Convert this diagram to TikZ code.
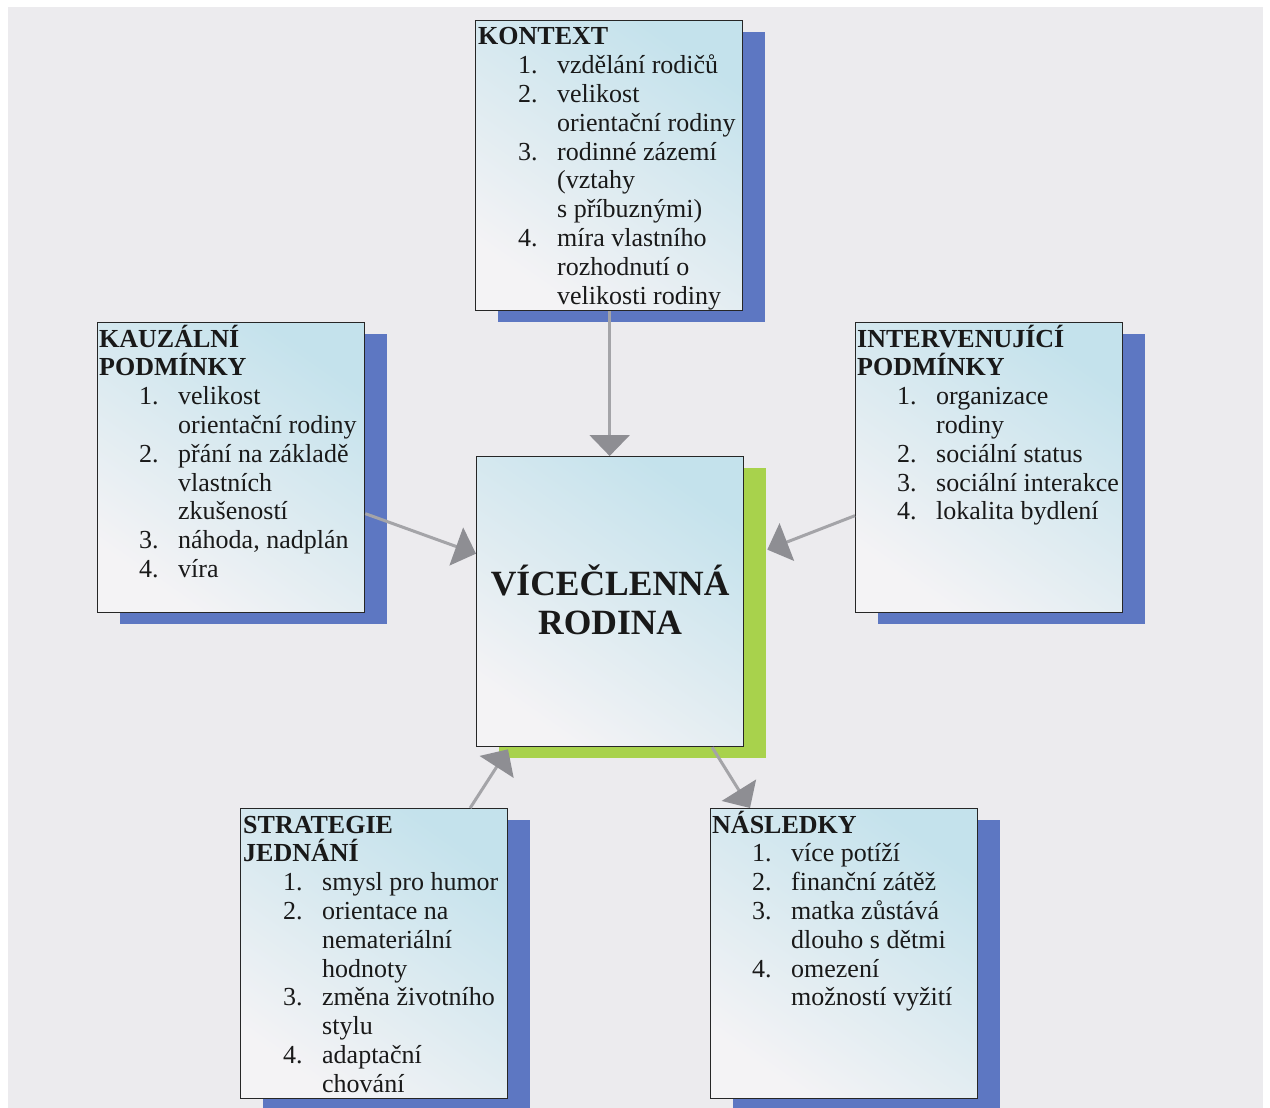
\documentclass[tikz,border=0pt]{standalone}
\usepackage{fontspec}
\setmainfont{Liberation Serif}
\usetikzlibrary{arrows.meta,shadows}
\definecolor{pagebg}{HTML}{ECEBEE}
\definecolor{shblue}{HTML}{5D77C2}
\definecolor{shgreen}{HTML}{A8D24C}
\definecolor{boxtop}{HTML}{C4E2EC}
\definecolor{boxbot}{HTML}{F4F3F5}
\definecolor{arrline}{HTML}{A4A4A8}
\definecolor{arrhead}{HTML}{8E8E93}
\newcommand\ttl[1]{\textbf{#1}}
\newcommand\itm[2]{\hspace*{40pt}\makebox[39pt][l]{#1}#2}
\newcommand\cnt[1]{\hspace*{79pt}#1}
\newcommand\boxtext[1]{\parbox[t]{300pt}{\raggedright\fontsize{26}{28.8}\selectfont #1}}
\tikzset{
  box/.style={draw=black!85, line width=1.3pt, top color=boxtop, bottom color=boxbot,
    shading angle=-35, minimum width=267pt, minimum height=290pt, anchor=north west,
    inner sep=0pt},
  blueshadow/.style={drop shadow={shadow xshift=22pt, shadow yshift=-11.5pt, fill=shblue, opacity=1}},
  greenshadow/.style={drop shadow={shadow xshift=22pt, shadow yshift=-11.5pt, fill=shgreen, opacity=1}},
  boxlabel/.style={anchor=base west, inner sep=0pt, text=black!90},
  conn/.style={draw=arrline, line width=3pt,
    -{Triangle[width=40pt,length=21pt,fill=arrhead,color=arrhead]}}
}
\begin{document}
\begin{tikzpicture}[x=1pt,y=-1pt]
\useasboundingbox (0,0) rectangle (1270,1108);
\clip (0,0) rectangle (1270,1108);
\fill[white] (0,0) rectangle (1270,1108);
\fill[pagebg] (8,7) rectangle (1263,1108);

% boxes (geometry only)
\node[box, blueshadow] (kontext) at (475,20) {};
\node[box, blueshadow] (kauz) at (97,322) {};
\node[box, blueshadow] (interv) at (855,322) {};
\node[box, greenshadow] (central) at (476,456) {};
\node[box, blueshadow] (strat) at (240,808) {};
\node[box, blueshadow] (nasl) at (710,808) {};

% connectors
\draw[conn] ([xshift=0.5pt]kontext.south) -- ([xshift=-0.5pt]central.north);
\draw[conn] ([yshift=-46pt]kauz.east) -- ([yshift=48pt]central.west);
\draw[conn] ([yshift=-48pt]interv.west) -- ([xshift=23pt,yshift=52pt]central.east);
\draw[conn] ([xshift=96pt]strat.north) -- ([xshift=32pt,yshift=-2pt]central.south west);
\draw[conn] ([xshift=102pt]central.south) -- ([xshift=40pt]nasl.north west);

% texts
\node[boxlabel] (tkontext) at ([xshift=3pt,yshift=-25pt]kontext.north west) {\boxtext{%
\ttl{KONTEXT}\\
\itm{1.}{vzdělání rodičů}\\
\itm{2.}{velikost}\\
\cnt{orientační rodiny}\\
\itm{3.}{rodinné zázemí}\\
\cnt{(vztahy}\\
\cnt{s příbuznými)}\\
\itm{4.}{míra vlastního}\\
\cnt{rozhodnutí o}\\
\cnt{velikosti rodiny}}};

\node[boxlabel] (tkauz) at ([xshift=2pt,yshift=-25pt]kauz.north west) {\boxtext{%
\ttl{KAUZÁLNÍ}\\
\ttl{PODMÍNKY}\\
\itm{1.}{velikost}\\
\cnt{orientační rodiny}\\
\itm{2.}{přání na základě}\\
\cnt{vlastních}\\
\cnt{zkušeností}\\
\itm{3.}{náhoda, nadplán}\\
\itm{4.}{víra}}};

\node[boxlabel] (tinterv) at ([xshift=2pt,yshift=-25pt]interv.north west) {\boxtext{%
\ttl{INTERVENUJÍCÍ}\\
\ttl{PODMÍNKY}\\
\itm{1.}{organizace}\\
\cnt{rodiny}\\
\itm{2.}{sociální status}\\
\itm{3.}{sociální interakce}\\
\itm{4.}{lokalita bydlení}}};

\node[boxlabel] (tstrat) at ([xshift=3pt,yshift=-25pt]strat.north west) {\boxtext{%
\ttl{STRATEGIE}\\
\ttl{JEDNÁNÍ}\\
\itm{1.}{smysl pro humor}\\
\itm{2.}{orientace na}\\
\cnt{nemateriální}\\
\cnt{hodnoty}\\
\itm{3.}{změna životního}\\
\cnt{stylu}\\
\itm{4.}{adaptační}\\
\cnt{chování}}};

\node[boxlabel] (tnasl) at ([xshift=2pt,yshift=-25pt]nasl.north west) {\boxtext{%
\ttl{NÁSLEDKY}\\
\itm{1.}{více potíží}\\
\itm{2.}{finanční zátěž}\\
\itm{3.}{matka zůstává}\\
\cnt{dlouho s dětmi}\\
\itm{4.}{omezení}\\
\cnt{možností vyžití}}};

\node[align=center, inner sep=0pt, text=black!90, font=\fontsize{35.5}{39}\selectfont\bfseries]
  (tcentral) at ([yshift=2pt]central.center) {VÍCEČLENNÁ\\RODINA};
\end{tikzpicture}
\end{document}
